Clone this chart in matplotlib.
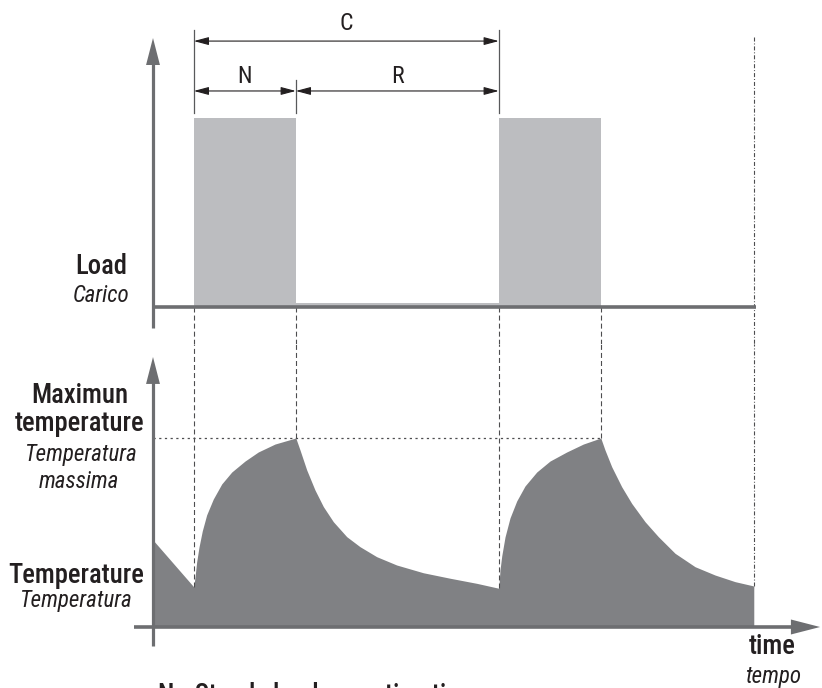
import matplotlib
matplotlib.use('Agg')
import matplotlib.pyplot as plt
from matplotlib.patches import FancyArrowPatch, ArrowStyle

plt.rcParams['lines.scale_dashes'] = False
FONT = ['Roboto Condensed', 'Archivo Narrow', 'DejaVu Sans']
plt.rcParams['font.family'] = FONT

# ---------------- data ----------------
# time unit = duration N of the load period
event_times = [0.40, 1.40, 3.39, 4.39]      # load on, off, on, off
end_time = 5.89                              # end of observed period
load_starts = [0.40, 1.40, 3.39]
load_widths = [1.00, 1.99, 1.00]
load_levels = [1.00, 0.02, 1.00]

temp_time = [0.00, 0.40, 0.412, 0.428, 0.451, 0.483, 0.526, 0.591, 0.674, 0.772, 0.902, 1.032, 1.196, 1.40,
             1.441, 1.507, 1.588, 1.670, 1.768, 1.899, 2.029, 2.193, 2.389, 2.650, 2.912, 3.174, 3.39,
             3.402, 3.419, 3.451, 3.500, 3.566, 3.647, 3.762, 3.892, 4.056, 4.219, 4.39,
             4.431, 4.497, 4.595, 4.693, 4.824, 4.954, 5.118, 5.314, 5.510, 5.706, 5.89]
temp_value = [0.460, 0.212, 0.265, 0.344, 0.423, 0.508, 0.593, 0.677, 0.757, 0.820, 0.878, 0.926, 0.968, 1.000,
              0.937, 0.831, 0.725, 0.637, 0.557, 0.478, 0.425, 0.372, 0.328, 0.287, 0.258, 0.231, 0.205,
              0.302, 0.376, 0.476, 0.577, 0.667, 0.746, 0.820, 0.878, 0.926, 0.968, 1.000,
              0.937, 0.848, 0.742, 0.654, 0.557, 0.478, 0.390, 0.319, 0.275, 0.240, 0.217]
max_temperature = 1.0

span_labels = ['C', 'N', 'R']
load_label = ['Load', 'Carico']
max_label = ['Maximun', 'temperature', 'Temperatura', 'massima']
temp_label = ['Temperature', 'Temperatura']
time_label = ['time', 'tempo']
footnote = 'N - Steady load operating time'

# ---------------- style ----------------
W, H = 822, 688
AX_C = '#6d6e71'
BAR_C = '#bcbdc0'
FILL_C = '#808184'
DASH_C = '#4d4d4f'
TXT_C = '#231f20'

fig = plt.figure(figsize=(W / 100, H / 100), dpi=100)
ax_load = fig.add_axes([0, 0.5, 1, 0.5])
ax_temp = fig.add_axes([0, 0.0, 1, 0.5])
xlim = (-153 / 102, (W - 153) / 102)
for ax in (ax_load, ax_temp):
    ax.set_xlim(*xlim)
    ax.set_axis_off()
ax_load.set_ylim(-(344 - 307) / 189, 307 / 189)
ax_temp.set_ylim(-(688 - 627) / 189, (627 - 344) / 189)
ltop = ax_load.get_ylim()
ttop = ax_temp.get_ylim()

def head(ax, base, tip, hl, hw):
    ax.add_patch(FancyArrowPatch(base, tip,
                                 arrowstyle=ArrowStyle('-|>', head_length=hl, head_width=hw),
                                 mutation_scale=1, lw=0, color=AX_C,
                                 shrinkA=0, shrinkB=0, zorder=6))

# ---------- load panel ----------
ax_load.bar(load_starts, load_levels, width=load_widths, align='edge',
            color=BAR_C, lw=0, zorder=1)
ax_load.plot([0, end_time + 0.02], [0, 0], color=AX_C, lw=2.6,
             solid_capstyle='butt', zorder=5)
ax_load.plot([0, 0], [-0.111, 1.30], color=AX_C, lw=2.3,
             solid_capstyle='butt', zorder=5)
head(ax_load, (0, 1.28), (0, 1.423), 19.4, 5.0)

for t in event_times:
    ax_load.plot([t, t], [0, ltop[0]], color=DASH_C, lw=0.8,
                 dashes=(3.6, 2.2), zorder=3)
ax_load.plot([end_time, end_time], [1.429, ltop[0]], color=DASH_C, lw=0.8,
             dashes=(2.9, 1.4, 0.7, 1.4), zorder=3)

# dimension lines
c0, c1 = event_times[0], event_times[2]
n1 = event_times[1]
for t, y_top in ((c0, 1.466), (n1, 1.201), (c1, 1.466)):
    ax_load.plot([t, t], [1.026, y_top], color='#58595b', lw=0.9, zorder=4)
for (a, b), y in (((c0, c1), 1.407), ((c0, n1), 1.143), ((n1, c1), 1.143)):
    ax_load.add_patch(FancyArrowPatch((a, y), (b, y),
                                      arrowstyle=ArrowStyle('<|-|>', head_length=9, head_width=2.4),
                                      mutation_scale=1, lw=0.8, color=TXT_C,
                                      shrinkA=0, shrinkB=0, zorder=4))
for (a, b), y, s in (((c0, c1), 1.463, span_labels[0]),
                     ((c0, n1), 1.184, span_labels[1]),
                     ((n1, c1), 1.184, span_labels[2])):
    ax_load.text((a + b) / 2, y, s, ha='center', va='baseline',
                 fontsize=17, color=TXT_C)

# ---------- temperature panel ----------
ax_temp.fill_between(temp_time, temp_value, 0, color=FILL_C, lw=0, zorder=1)
for t in event_times:
    v = temp_value[temp_time.index(t)]
    ax_temp.plot([t, t], [v, ttop[1]], color=DASH_C, lw=0.8,
                 dashes=(3.6, 2.2), zorder=3)
ax_temp.plot([end_time, end_time], [temp_value[-1], ttop[1]], color=DASH_C, lw=0.8,
             dashes=(2.9, 1.4, 0.7, 1.4), zorder=3)
ax_temp.plot([0, event_times[3]], [max_temperature, max_temperature], color=DASH_C,
             lw=0.9, dashes=(1.6, 2.5), zorder=3)

ax_temp.plot([-0.186, 6.30], [0, 0], color=AX_C, lw=2.6, solid_capstyle='butt', zorder=5)
head(ax_temp, (6.25, 0), (6.54, 0), 21, 5.4)
ax_temp.plot([0, 0], [-0.1005, 1.30], color=AX_C, lw=2.3, solid_capstyle='butt', zorder=5)
head(ax_temp, (0, 1.28), (0, 1.4286), 19.4, 5.0)

# ---------- text ----------
def ftext(x, y, s, size, style='normal', ha='center', weight='normal'):
    fig.text(x / W, 1 - y / H, s, ha=ha, va='baseline', fontsize=size,
             style=style, weight=weight, color=TXT_C, family=FONT)

BIG, SMALL = 19.2, 16.6
ftext(101, 273.5, load_label[0], BIG, weight='medium')
ftext(101, 302, load_label[1], SMALL, 'italic')
ftext(79.5, 403, max_label[0], BIG, weight='medium')
ftext(79.5, 431.5, max_label[1], BIG, weight='medium')
ftext(81, 461.5, max_label[2], SMALL, 'italic')
ftext(79, 488, max_label[3], SMALL, 'italic')
ftext(76, 583, temp_label[0], BIG, weight='medium')
ftext(76, 607, temp_label[1], SMALL, 'italic')
ftext(772, 654, time_label[0], BIG, weight='medium')
ftext(773, 683, time_label[1], SMALL, 'italic')
ftext(158, 703, footnote, BIG, ha='left', weight='medium')

fig.savefig('out.png', dpi=100)
